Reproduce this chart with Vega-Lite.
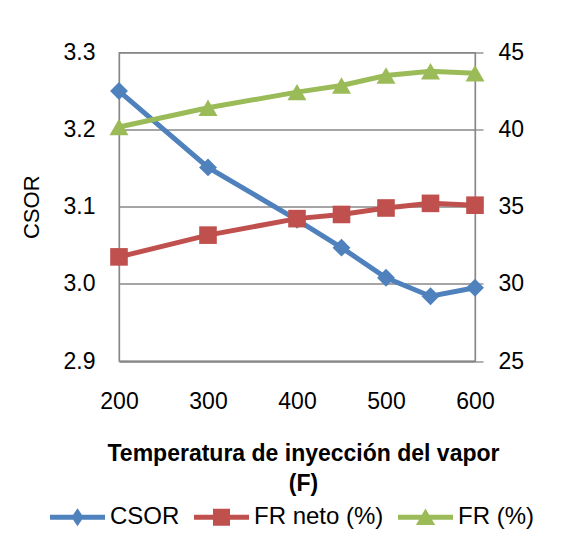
{
  "$schema": "https://vega.github.io/schema/vega-lite/v6.json",
  "width": 356,
  "height": 308.5,
  "autosize": "none",
  "padding": {"left": 119, "top": 52.5, "right": 93, "bottom": 190},
  "background": "white",
  "config": {
    "font": "Liberation Sans",
    "view": {"stroke": "#878787", "strokeWidth": 1.3},
    "axis": {
      "labelFont": "Liberation Sans",
      "labelFontSize": 23,
      "labelColor": "black",
      "titleFont": "Liberation Sans",
      "titleFontSize": 23,
      "titleColor": "black",
      "domainColor": "#878787",
      "domainWidth": 1.3,
      "gridColor": "#878787",
      "gridWidth": 1.3,
      "tickColor": "#878787",
      "tickWidth": 1.3
    }
  },
  "data": {
    "values": [
      {"temp": 200, "serie": "CSOR", "valor": 3.250},
      {"temp": 300, "serie": "CSOR", "valor": 3.151},
      {"temp": 400, "serie": "CSOR", "valor": 3.083},
      {"temp": 450, "serie": "CSOR", "valor": 3.047},
      {"temp": 500, "serie": "CSOR", "valor": 3.008},
      {"temp": 550, "serie": "CSOR", "valor": 2.984},
      {"temp": 600, "serie": "CSOR", "valor": 2.995},
      {"temp": 200, "serie": "FR neto (%)", "valor": 31.75},
      {"temp": 300, "serie": "FR neto (%)", "valor": 33.16},
      {"temp": 400, "serie": "FR neto (%)", "valor": 34.23},
      {"temp": 450, "serie": "FR neto (%)", "valor": 34.5},
      {"temp": 500, "serie": "FR neto (%)", "valor": 34.92},
      {"temp": 550, "serie": "FR neto (%)", "valor": 35.22},
      {"temp": 600, "serie": "FR neto (%)", "valor": 35.1},
      {"temp": 200, "serie": "FR (%)", "valor": 40.17},
      {"temp": 300, "serie": "FR (%)", "valor": 41.42},
      {"temp": 400, "serie": "FR (%)", "valor": 42.43},
      {"temp": 450, "serie": "FR (%)", "valor": 42.86},
      {"temp": 500, "serie": "FR (%)", "valor": 43.51},
      {"temp": 550, "serie": "FR (%)", "valor": 43.79},
      {"temp": 600, "serie": "FR (%)", "valor": 43.66}
    ]
  },
  "encoding": {
    "x": {
      "field": "temp",
      "type": "quantitative",
      "scale": {"domain": [200, 600], "nice": false, "zero": false},
      "axis": {
        "values": [200, 300, 400, 500, 600],
        "ticks": false,
        "grid": false,
        "labelFlush": false,
        "labelPadding": 29,
        "title": ["Temperatura de inyección del vapor", "(F)"],
        "titleFontWeight": "bold",
        "titleLineHeight": 30,
        "titlePadding": 29,
        "titleX": 184
      }
    },
    "color": {
      "field": "serie",
      "type": "nominal",
      "scale": {
        "domain": ["CSOR", "FR neto (%)", "FR (%)"],
        "range": ["#4F81BD", "#C0504D", "#9BBB59"]
      },
      "legend": {
        "title": null,
        "orient": "none",
        "direction": "horizontal",
        "legendX": -69,
        "legendY": 437,
        "labelFont": "Liberation Sans",
        "labelFontSize": 24,
        "labelColor": "black",
        "labelOffset": 5,
        "columnPadding": 14,
        "symbolSize": 3025,
        "encode": {
          "symbols": {
            "update": {
              "shape": {"signal": "datum.value === 'CSOR' ? 'M-1,-0.09L1,-0.09L1,0.09L-1,0.09Z M0,-0.33L0.22,0L0,0.33L-0.22,0Z' : datum.value === 'FR neto (%)' ? 'M-1,-0.09L1,-0.09L1,0.09L-1,0.09Z M-0.31,-0.31L0.31,-0.31L0.31,0.31L-0.31,0.31Z' : 'M-1,-0.09L1,-0.09L1,0.09L-1,0.09Z M0,-0.32L0.35,0.28L-0.35,0.28Z'"},
              "size": {"value": 3025},
              "fill": {"signal": "scale('color', datum.value)"},
              "stroke": {"value": "transparent"},
              "strokeWidth": {"value": 0},
              "opacity": {"value": 1},
              "fillOpacity": {"value": 1}
            }
          }
        }
      }
    }
  },
  "layer": [
    {
      "transform": [{"filter": "datum.serie === 'CSOR'"}],
      "encoding": {
        "y": {
          "field": "valor",
          "type": "quantitative",
          "scale": {"domain": [2.9, 3.3], "nice": false, "zero": false},
          "axis": {
            "values": [2.9, 3.0, 3.1, 3.2, 3.3],
            "format": ".1f",
            "ticks": false,
            "grid": true,
            "labelPadding": 24,
            "title": "CSOR",
            "titleFontWeight": "normal",
            "titleFontSize": 22,
            "titlePadding": 20
          }
        }
      },
      "layer": [
        {"mark": {"type": "line", "strokeWidth": 5}},
        {"mark": {"type": "point", "shape": "diamond", "filled": true, "opacity": 1, "size": 320}}
      ]
    },
    {
      "transform": [{"filter": "datum.serie !== 'CSOR'"}],
      "encoding": {
        "y": {
          "field": "valor",
          "type": "quantitative",
          "scale": {"domain": [25, 45], "nice": false, "zero": false},
          "axis": {
            "orient": "right",
            "values": [25, 30, 35, 40, 45],
            "ticks": true,
            "tickSize": 8,
            "grid": false,
            "labelPadding": 15,
            "title": null
          }
        }
      },
      "layer": [
        {"mark": {"type": "line", "strokeWidth": 5}},
        {
          "transform": [{"filter": "datum.serie === 'FR neto (%)'"}],
          "mark": {"type": "point", "shape": "square", "filled": true, "opacity": 1, "size": 310}
        },
        {
          "transform": [{"filter": "datum.serie === 'FR (%)'"}],
          "mark": {"type": "point", "shape": "triangle-up", "filled": true, "opacity": 1, "size": 360}
        }
      ]
    }
  ],
  "resolve": {"scale": {"y": "independent"}}
}
